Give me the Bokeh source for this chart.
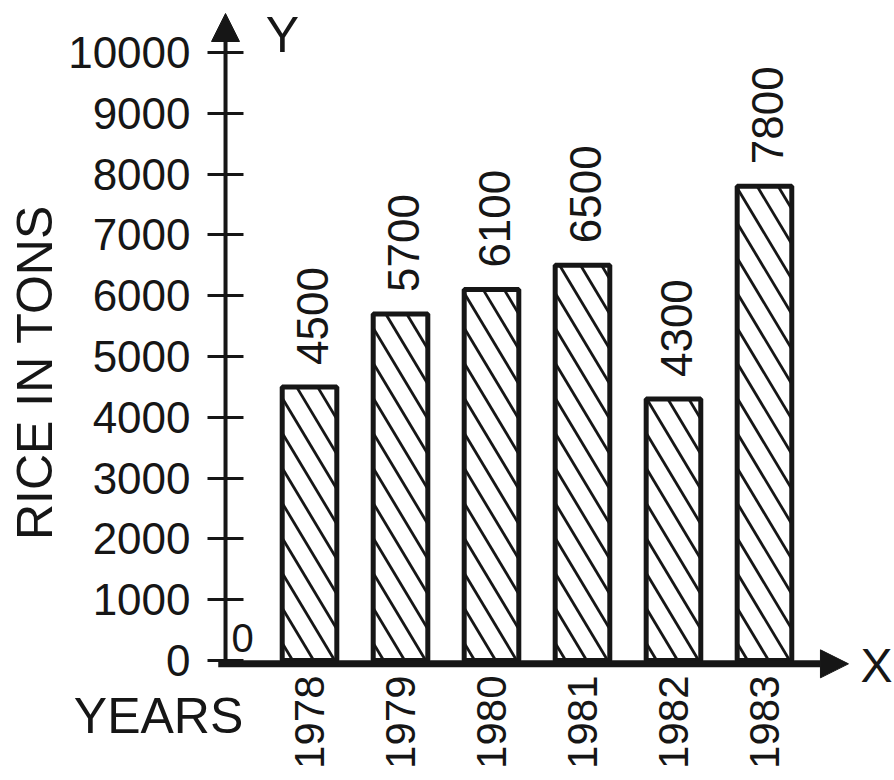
import math
from bokeh.plotting import figure
from bokeh.models import Range1d, FixedTicker, Arrow, NormalHead, Label
from bokeh.embed import file_html
from bokeh.resources import INLINE
from bokeh.core.properties import value

# ---- data ----
years = ["1978", "1979", "1980", "1981", "1982", "1983"]
rice_tons = [4500, 5700, 6100, 6500, 4300, 7800]
y_ticks = [0, 1000, 2000, 3000, 4000, 5000, 6000, 7000, 8000, 9000, 10000]
y_title = "RICE IN TONS"
x_title = "YEARS"

# ---- style / layout ----
INK = "#161616"
FONT = "Liberation Sans"
W_PX, H_PX = 892, 778
idx = list(range(len(years)))
X_START, X_END = -3.396, 6.407       # visible x span (bar index units)
Y_START, Y_END = -1941, 10855        # visible y span (tons)
Y_AXIS_X = -0.923                    # where the vertical axis sits
X_ARROW_END = 5.923
Y_ARROW_END = 10641
BAR_W = 0.6

p = figure(width=W_PX, height=H_PX,
           x_range=Range1d(X_START, X_END), y_range=Range1d(Y_START, Y_END),
           output_backend="svg", toolbar_location=None, min_border=0)
p.outline_line_color = None
p.grid.visible = False
p.background_fill_color = "white"
p.border_fill_color = "white"

# y axis (drawn at a fixed location inside the frame)
p.yaxis.fixed_location = Y_AXIS_X
p.yaxis.ticker = FixedTicker(ticks=y_ticks)
p.yaxis.axis_line_color = None
p.yaxis.major_tick_in = 18
p.yaxis.major_tick_out = 18
p.yaxis.major_tick_line_width = 3
p.yaxis.major_tick_line_color = INK
p.yaxis.minor_tick_line_color = None
p.yaxis.major_label_text_font = FONT
p.yaxis.major_label_text_font_size = "44px"
p.yaxis.major_label_text_color = INK
p.yaxis.major_label_standoff = 17

# x axis
p.xaxis.fixed_location = 0
p.xaxis.ticker = FixedTicker(ticks=idx)
p.xaxis.major_label_overrides = {i: y for i, y in zip(idx, years)}
p.xaxis.major_label_orientation = math.pi / 2
p.xaxis.axis_line_color = None
p.xaxis.major_tick_line_color = None
p.xaxis.minor_tick_line_color = None
p.xaxis.major_label_text_font = FONT
p.xaxis.major_label_text_font_size = "42px"
p.xaxis.major_label_text_color = INK
p.xaxis.major_label_standoff = 9

# bars: white fill
p.vbar(x=idx, top=rice_tons, bottom=0, width=BAR_W,
       fill_color="white", line_color=None)

# steep back-slash hatching, computed from each bar's extent
px_per_x = W_PX / (X_END - X_START)
px_per_y = H_PX / (Y_END - Y_START)
COT = 0.6        # horizontal run per vertical px (about 59 degrees)
GAP = 21         # horizontal spacing of hatch lines in px
x0s, y0s, x1s, y1s = [], [], [], []
for i, v in zip(idx, rice_tons):
    left = i - BAR_W / 2
    wpx = BAR_W * px_per_x
    hpx = v * px_per_y
    c = GAP / 2
    while c < wpx + COT * hpx:
        w_lo = max(0.0, (c - wpx) / COT)
        w_hi = min(hpx, c / COT)
        if w_lo < w_hi:
            x0s.append(left + (c - COT * w_lo) / px_per_x)
            y0s.append(w_lo / px_per_y)
            x1s.append(left + (c - COT * w_hi) / px_per_x)
            y1s.append(w_hi / px_per_y)
        c += GAP
p.segment(x0=x0s, y0=y0s, x1=x1s, y1=y1s, line_color=INK, line_width=2.8)

# bar outlines on top
p.vbar(x=idx, top=rice_tons, bottom=0, width=BAR_W,
       fill_color=None, line_color=INK, line_width=5)

# value labels
p.text(x=idx, y=rice_tons, text=[str(v) for v in rice_tons],
       angle=math.pi / 2, text_align="left", text_baseline="middle",
       x_offset=3, y_offset=-22,
       text_font=value(FONT), text_font_size="44px", text_color=INK)

# axes with arrow heads
p.add_layout(Arrow(end=NormalHead(size=28, fill_color=INK, line_color=INK),
                   x_start=Y_AXIS_X, y_start=-55, x_end=Y_AXIS_X, y_end=Y_ARROW_END,
                   line_width=4, line_color=INK))
p.add_layout(Arrow(end=NormalHead(size=28, fill_color=INK, line_color=INK),
                   x_start=Y_AXIS_X - 0.08, y_start=-55, x_end=X_ARROW_END, y_end=-55,
                   line_width=7, line_color=INK))

# axis titles and letters
p.add_layout(Label(x=-3.022, y=4737, text=y_title, angle=math.pi / 2,
                   text_align="center", text_baseline="middle",
                   text_font=FONT, text_font_size="50px", text_color=INK))
p.add_layout(Label(x=-1.659, y=-921, text=x_title,
                   text_align="center", text_baseline="middle",
                   text_font=FONT, text_font_size="50px", text_color=INK))
p.add_layout(Label(x=6.055, y=-82, text="X",
                   text_align="left", text_baseline="middle",
                   text_font=FONT, text_font_size="48px", text_color=INK))
p.add_layout(Label(x=-0.297, y=10280, text="Y",
                   text_align="center", text_baseline="middle",
                   text_font=FONT, text_font_size="50px", text_color=INK))
p.add_layout(Label(x=-0.736, y=378, text="0",
                   text_align="center", text_baseline="middle",
                   text_font=FONT, text_font_size="40px", text_color=INK))

open("out.html", "w").write(file_html(p, INLINE))
